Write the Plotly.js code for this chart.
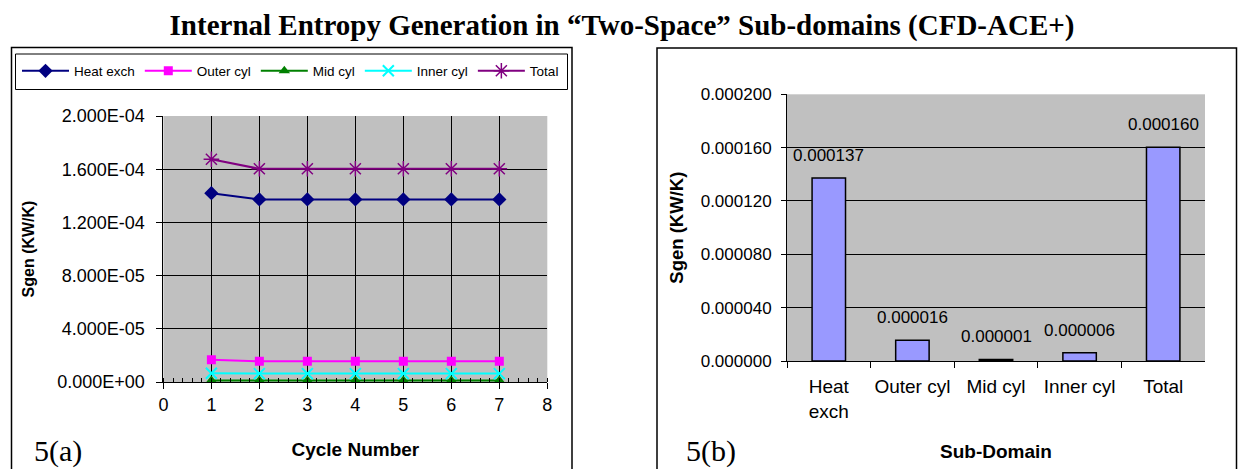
<!DOCTYPE html>
<html><head><meta charset="utf-8">
<script src="https://cdn.plot.ly/plotly-3.0.1.min.js"></script>
<style>html,body{margin:0;padding:0;background:#fff}#chart{width:1238px;height:469px}</style>
</head><body><div id="chart"></div>
<script>
// ---- data: panel (a) ----
const cycles = [1, 2, 3, 4, 5, 6, 7];
const heatExch = [1.42e-4, 1.373e-4, 1.373e-4, 1.373e-4, 1.373e-4, 1.373e-4, 1.373e-4];
const outerCyl = [1.68e-5, 1.56e-5, 1.56e-5, 1.56e-5, 1.56e-5, 1.56e-5, 1.56e-5];
const midCyl   = [1.2e-6, 1.2e-6, 1.2e-6, 1.2e-6, 1.2e-6, 1.2e-6, 1.2e-6];
const innerCyl = [6.6e-6, 6.3e-6, 6.3e-6, 6.3e-6, 6.3e-6, 6.3e-6, 6.3e-6];
const total    = [1.675e-4, 1.603e-4, 1.603e-4, 1.603e-4, 1.603e-4, 1.603e-4, 1.603e-4];
const seriesNames = ['Heat exch', 'Outer cyl', 'Mid cyl', 'Inner cyl', 'Total'];
const yTickValsA = [0, 4e-5, 8e-5, 1.2e-4, 1.6e-4, 2e-4];
const yTickTextA = ['0.000E+00', '4.000E-05', '8.000E-05', '1.200E-04', '1.600E-04', '2.000E-04'];
const xTickValsA = [0, 1, 2, 3, 4, 5, 6, 7, 8];

// ---- data: panel (b) ----
const subDomains = ['Heat exch', 'Outer cyl', 'Mid cyl', 'Inner cyl', 'Total'];
const subDomainTicks = ['Heat<br>exch', 'Outer cyl', 'Mid cyl', 'Inner cyl', 'Total'];
const sgenByDomain = [1.373e-4, 1.56e-5, 1.2e-6, 6.2e-6, 1.603e-4];

const W = 1238, H = 469;
const px = v => v / W;
const py = v => 1 - v / H;
const sans = 'Liberation Sans, Arial, sans-serif';
const serif = 'Liberation Serif, Times New Roman, serif';

const lineSeries = [
  {y: heatExch, color: '#000080', symbol: 'diamond', size: 11, lw: 0},
  {y: outerCyl, color: '#FF00FF', symbol: 'square', size: 9, lw: 0},
  {y: midCyl, color: '#008000', symbol: 'triangle-up', size: 10, lw: 0},
  {y: innerCyl, color: '#00FFFF', symbol: 'x-thin-open', size: 11, lw: 2},
  {y: total, color: '#800080', symbol: 'asterisk-open', size: 13, lw: 1.5}
];

const traces = lineSeries.map((s, i) => ({
  type: 'scatter', mode: 'lines+markers', name: seriesNames[i],
  x: cycles, y: s.y, xaxis: 'x', yaxis: 'y',
  line: {color: s.color, width: 2},
  marker: {color: s.color, symbol: s.symbol, size: s.size,
           line: {color: s.color, width: s.lw}}
}));

traces.push({
  type: 'bar', name: 'Sgen', showlegend: false,
  x: subDomains, y: sgenByDomain, xaxis: 'x2', yaxis: 'y2',
  width: 0.4,
  marker: {color: '#9999FF', line: {color: '#000000', width: 1.5}}
});

const barLabels = subDomains.map((c, i) => ({
  xref: 'x2', yref: 'y2', x: c, y: sgenByDomain[i],
  text: sgenByDomain[i].toFixed(6), showarrow: false,
  yanchor: 'middle', yshift: 22.5,
  font: {family: sans, size: 17, color: '#000'}
}));

const layout = {
  width: W, height: H,
  margin: {l: 0, r: 0, t: 0, b: 0},
  paper_bgcolor: '#ffffff',
  showlegend: true,
  title: {
    text: 'Internal Entropy Generation in \u201cTwo-Space\u201d Sub-domains (CFD-ACE+)',
    font: {family: serif, size: 29, color: '#000', weight: 'bold'},
    x: 622 / W, xanchor: 'center', y: 1 - 25 / H, yanchor: 'middle'
  },
  legend: {
    orientation: 'h', x: px(17), xanchor: 'left', y: py(71), yanchor: 'middle',
    bgcolor: 'rgba(0,0,0,0)', borderwidth: 0,
    font: {family: sans, size: 13.5, color: '#000'},
    itemwidth: 47, itemgap: 8
  },
  xaxis: {
    domain: [px(163.4), px(547.3)], anchor: 'y',
    range: [0, 8], tickvals: xTickValsA, ticks: 'outside', ticklen: 6,
    tickcolor: '#000', showline: true, linecolor: '#000', linewidth: 1,
    showgrid: true, gridcolor: '#000', gridwidth: 1, zeroline: false,
    tickfont: {family: sans, size: 18, color: '#000'},
    minor: {dtick: 0.2, ticks: 'inside', ticklen: 4, tickcolor: '#000', showgrid: false},
    title: {text: 'Cycle Number', standoff: 29,
            font: {family: sans, size: 19, color: '#000', weight: 'bold'}},
    fixedrange: true
  },
  yaxis: {
    domain: [py(382), py(116)], anchor: 'x',
    range: [0, 2e-4], tickvals: yTickValsA, ticktext: yTickTextA,
    ticks: 'outside', ticklen: 6, tickcolor: '#000',
    showline: true, linecolor: '#000', linewidth: 1,
    showgrid: true, gridcolor: '#000', gridwidth: 1, zeroline: false,
    tickfont: {family: sans, size: 18, color: '#000'},
    ticklabelstandoff: 8,
    title: {text: 'Sgen (KW/K)', standoff: 18,
            font: {family: sans, size: 16, color: '#000', weight: 'bold'}},
    fixedrange: true
  },
  xaxis2: {
    domain: [px(787), px(1205)], anchor: 'y2', type: 'category',
    tickvals: subDomains, ticktext: subDomainTicks, tickson: 'boundaries',
    tickangle: 0,
    ticks: 'outside', ticklen: 6, tickcolor: '#000',
    showline: true, linecolor: '#000', linewidth: 1, showgrid: false,
    tickfont: {family: sans, size: 19, color: '#000'},
    ticklabelstandoff: 8,
    title: {text: 'Sub-Domain', standoff: 24,
            font: {family: sans, size: 19, color: '#000', weight: 'bold'}},
    fixedrange: true
  },
  yaxis2: {
    domain: [py(361), py(94.3)], anchor: 'x2',
    range: [0, 2e-4], dtick: 4e-5, tick0: 0, tickformat: '.6f',
    ticks: 'outside', ticklen: 5, tickcolor: '#000',
    showline: true, linecolor: '#000', linewidth: 1,
    showgrid: true, gridcolor: '#000', gridwidth: 1, zeroline: false,
    tickfont: {family: sans, size: 17, color: '#000'},
    ticklabelstandoff: 6,
    title: {text: 'Sgen (KW/K)', standoff: 12,
            font: {family: sans, size: 18.5, color: '#000', weight: 'bold'}},
    fixedrange: true
  },
  plot_bgcolor: '#C0C0C0',
  shapes: [
    {type: 'rect', xref: 'paper', yref: 'paper', x0: px(11.5), x1: px(572), y0: py(475), y1: py(47.5),
     line: {color: '#000', width: 1.5}, layer: 'below'},
    {type: 'rect', xref: 'paper', yref: 'paper', x0: px(15.5), x1: px(567.5), y0: py(89.5), y1: py(54),
     line: {color: '#000', width: 1}, layer: 'below'},
    {type: 'rect', xref: 'paper', yref: 'paper', x0: px(657), x1: px(1236.5), y0: py(475), y1: py(48),
     line: {color: '#000', width: 1.5}, layer: 'below'}
  ],
  annotations: barLabels.concat([
    {xref: 'paper', yref: 'paper', x: px(32), y: py(451), xanchor: 'left', yanchor: 'middle',
     text: '5(a)', showarrow: false, font: {family: serif, size: 30, color: '#000'}},
    {xref: 'paper', yref: 'paper', x: px(684), y: py(451), xanchor: 'left', yanchor: 'middle',
     text: '5(b)', showarrow: false, font: {family: serif, size: 30, color: '#000'}}
  ])
};

Plotly.newPlot('chart', traces, layout, {displayModeBar: false, staticPlot: true});
</script>
</body></html>
